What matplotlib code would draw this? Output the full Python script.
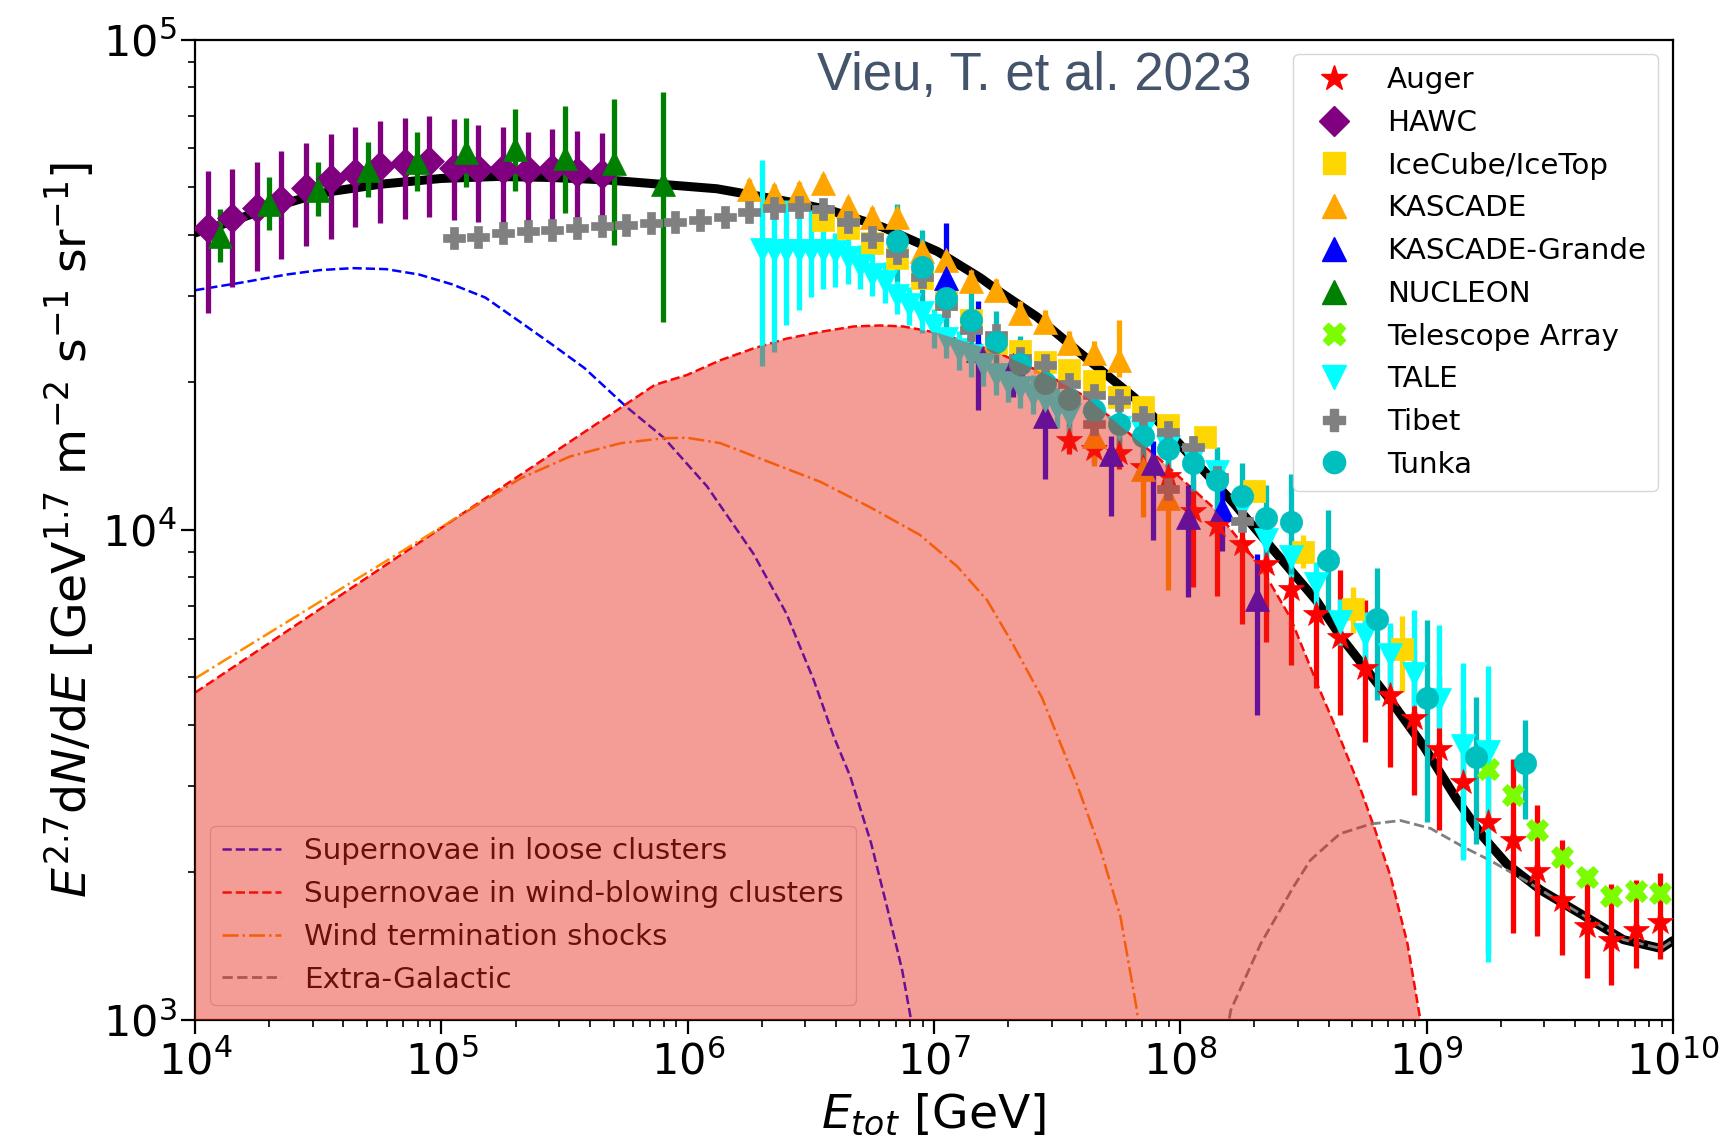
import matplotlib
matplotlib.use("Agg")
import matplotlib.pyplot as plt
from matplotlib.lines import Line2D
import numpy as np

# ---- data: log10(E / GeV) and log10(E^2.7 dN/dE) ----
# model curves
total_lgE = [4.0, 4.103, 4.246, 4.345, 4.448, 4.546, 4.748, 4.999, 5.223, 5.447, 5.670, 5.894,
             6.118, 6.342, 6.566, 6.790, 7.014, 7.189, 7.269, 7.417, 7.610, 7.811, 7.945, 8.080,
             8.219, 8.353, 8.554, 8.653, 8.854, 8.989, 9.123, 9.231, 9.325, 9.464, 9.665, 9.799,
             9.952, 10.0]
total_lgF = [4.606, 4.622, 4.647, 4.663, 4.678, 4.690, 4.705, 4.717, 4.721, 4.719, 4.714, 4.705,
             4.696, 4.676, 4.654, 4.618, 4.568, 4.514, 4.485, 4.435, 4.354, 4.271, 4.204, 4.129,
             4.053, 3.974, 3.855, 3.781, 3.652, 3.558, 3.450, 3.373, 3.319, 3.265, 3.205, 3.164,
             3.146, 3.162]

loose_lgE = [4.0, 4.193, 4.372, 4.506, 4.640, 4.775, 4.909, 5.043, 5.178, 5.326, 5.447, 5.581,
             5.751, 5.903, 6.078, 6.266, 6.400, 6.512, 6.593, 6.660, 6.745, 6.812, 6.871, 6.907,
             6.924]
loose_lgF = [4.489, 4.505, 4.521, 4.530, 4.534, 4.532, 4.521, 4.501, 4.474, 4.422, 4.379, 4.330,
             4.251, 4.188, 4.089, 3.952, 3.830, 3.693, 3.578, 3.497, 3.360, 3.225, 3.101, 3.000,
             2.948]

wind_lgE = [4.0, 5.867, 5.997, 6.132, 6.266, 6.400, 6.539, 6.674, 6.781, 6.875, 7.014, 7.238,
            7.462, 7.618, 7.910, 8.133, 8.326, 8.447, 8.559, 8.635, 8.729, 8.787, 8.854, 8.922,
            8.975, 8.993]
wind_lgF = [3.668, 4.296, 4.316, 4.346, 4.370, 4.390, 4.404, 4.415, 4.417, 4.415, 4.402, 4.366,
            4.316, 4.271, 4.147, 4.046, 3.925, 3.821, 3.682, 3.592, 3.475, 3.394, 3.293, 3.157,
            3.000, 2.944]

wts_lgE = [4.0, 5.321, 5.523, 5.729, 5.903, 5.997, 6.132, 6.333, 6.539, 6.741, 6.942, 7.095,
           7.215, 7.318, 7.439, 7.578, 7.677, 7.757, 7.824, 7.838]
wts_lgF = [3.697, 4.105, 4.150, 4.177, 4.187, 4.188, 4.177, 4.138, 4.098, 4.046, 3.990, 3.925,
           3.857, 3.769, 3.657, 3.484, 3.346, 3.211, 3.020, 2.944]

eg_lgE = [8.178, 8.205, 8.326, 8.460, 8.528, 8.648, 8.774, 8.895, 9.016, 9.150, 9.257, 9.396,
          9.531, 9.665, 9.799, 9.952, 10.0]
eg_lgF = [2.944, 3.020, 3.155, 3.272, 3.326, 3.380, 3.400, 3.407, 3.391, 3.353, 3.326, 3.286,
          3.245, 3.205, 3.164, 3.146, 3.162]

# measurements
auger_lgE = [7.55, 7.65, 7.75, 7.85, 7.95, 8.05, 8.15, 8.25, 8.35, 8.45, 8.55, 8.65, 8.75,
             8.85, 8.95, 9.05, 9.15, 9.25, 9.35, 9.45, 9.55, 9.65, 9.75, 9.85, 9.95]
auger_lgF = [4.183, 4.165, 4.156, 4.129, 4.109, 4.039, 4.010, 3.972, 3.931, 3.880, 3.828, 3.781,
             3.718, 3.664, 3.617, 3.552, 3.486, 3.405, 3.367, 3.304, 3.245, 3.191, 3.164, 3.184,
             3.200]
auger_hi = [4.215, 4.197, 4.186, 4.159, 4.141, 4.102, 4.062, 4.012, 3.967, 3.920, 3.920, 3.918,
            3.857, 3.803, 3.758, 3.704, 3.632, 3.531, 3.533, 3.439, 3.367, 3.299, 3.277, 3.286,
            3.299]
auger_lo = [4.154, 4.136, 4.125, 4.098, 4.075, 3.884, 3.866, 3.808, 3.772, 3.724, 3.677, 3.623,
            3.567, 3.517, 3.459, 3.387, 3.331, 3.135, 3.178, 3.171, 3.133, 3.086, 3.072, 3.106,
            3.124]

hawc_lgE = [4.05, 4.15, 4.25, 4.35, 4.45, 4.55, 4.65, 4.75, 4.85, 4.95, 5.05, 5.15, 5.25, 5.35,
            5.45, 5.55, 5.65]
hawc_lgF = [4.616, 4.636, 4.657, 4.674, 4.697, 4.715, 4.728, 4.742, 4.749, 4.753, 4.739, 4.737,
            4.737, 4.735, 4.737, 4.730, 4.726]
hawc_hi = [4.733, 4.737, 4.751, 4.772, 4.789, 4.808, 4.821, 4.835, 4.840, 4.844, 4.839, 4.826,
           4.821, 4.812, 4.818, 4.813, 4.810]
hawc_lo = [4.442, 4.496, 4.529, 4.553, 4.579, 4.594, 4.617, 4.626, 4.635, 4.638, 4.633, 4.629,
           4.627, 4.627, 4.627, 4.631, 4.635]

icetop_lgE = [6.55, 6.65, 6.75, 6.85, 6.95, 7.05, 7.15, 7.25, 7.35, 7.45, 7.55, 7.65, 7.75,
              7.85, 7.95, 8.1, 8.3, 8.5, 8.7, 8.9]
icetop_lgF = [4.632, 4.615, 4.585, 4.554, 4.513, 4.472, 4.428, 4.381, 4.364, 4.343, 4.326, 4.303,
              4.271, 4.251, 4.213, 4.190, 4.080, 3.954, 3.839, 3.756]
icetop_hi = [4.647, 4.630, 4.600, 4.569, 4.528, 4.487, 4.443, 4.396, 4.379, 4.358, 4.341, 4.318,
             4.287, 4.268, 4.231, 4.210, 4.102, 3.990, 3.884, 3.825]
icetop_lo = [4.617, 4.600, 4.570, 4.539, 4.498, 4.457, 4.413, 4.366, 4.349, 4.328, 4.311, 4.288,
             4.255, 4.234, 4.195, 4.170, 4.058, 3.922, 3.790, 3.670]

kascade_lgE = [6.25, 6.35, 6.45, 6.55, 6.65, 6.75, 6.85, 6.95, 7.05, 7.15, 7.25, 7.35, 7.45,
               7.55, 7.65, 7.75, 7.65, 7.85, 7.95]
kascade_lgF = [4.696, 4.685, 4.690, 4.707, 4.660, 4.638, 4.638, 4.568, 4.550, 4.507, 4.489, 4.442,
               4.424, 4.381, 4.361, 4.347, 4.192, 4.125, 4.066]
kascade_hi = [4.716, 4.705, 4.710, 4.727, 4.680, 4.658, 4.658, 4.590, 4.572, 4.530, 4.512, 4.466,
              4.448, 4.405, 4.385, 4.429, 4.215, 4.163, 4.091]
kascade_lo = [4.676, 4.665, 4.670, 4.687, 4.640, 4.618, 4.618, 4.546, 4.528, 4.484, 4.466, 4.418,
              4.400, 4.357, 4.337, 4.311, 4.131, 4.026, 3.877]

grande_lgE = [7.05, 7.18, 7.32, 7.45, 7.72, 7.89, 8.03, 8.17, 8.31]
grande_lgF = [4.514, 4.368, 4.336, 4.233, 4.154, 4.136, 4.026, 4.042, 3.859]
grande_hi = [4.626, 4.467, 4.384, 4.298, 4.192, 4.181, 4.091, 4.114, 3.951]
grande_lo = [4.422, 4.244, 4.271, 4.104, 4.028, 3.979, 3.864, 3.956, 3.623]

nucleon_lgE = [4.1, 4.3, 4.5, 4.7, 4.9, 5.1, 5.3, 5.5, 5.7, 5.9]
nucleon_lgF = [4.600, 4.665, 4.693, 4.735, 4.751, 4.770, 4.777, 4.759, 4.748, 4.706]
nucleon_hi = [4.654, 4.719, 4.751, 4.791, 4.812, 4.840, 4.859, 4.864, 4.879, 4.893]
nucleon_lo = [4.547, 4.611, 4.640, 4.679, 4.691, 4.699, 4.691, 4.646, 4.582, 4.425]

ta_lgE = [9.25, 9.35, 9.45, 9.55, 9.65, 9.75, 9.85, 9.95]
ta_lgF = [3.513, 3.459, 3.387, 3.333, 3.292, 3.254, 3.263, 3.259]

tale_lgE = [6.30, 6.35, 6.40, 6.45, 6.50, 6.55, 6.60, 6.65, 6.70, 6.75, 6.80, 6.85, 6.90, 6.95,
            7.00, 7.05, 7.10, 7.15, 7.20, 7.25, 7.30, 7.35, 7.40, 7.45, 7.50, 7.55, 7.65, 7.75,
            7.85, 7.95, 8.05, 8.15, 8.25, 8.35, 8.45, 8.55, 8.65, 8.75, 8.85, 8.95, 9.05, 9.15,
            9.25]
tale_lgF = [4.572, 4.568, 4.568, 4.568, 4.568, 4.570, 4.566, 4.555, 4.539, 4.521, 4.505, 4.478,
            4.458, 4.442, 4.415, 4.390, 4.368, 4.354, 4.336, 4.316, 4.300, 4.289, 4.276, 4.264,
            4.249, 4.235, 4.219, 4.208, 4.199, 4.170, 4.147, 4.118, 4.046, 3.979, 3.945, 3.889,
            3.812, 3.785, 3.745, 3.706, 3.652, 3.560, 3.546]
tale_hi = [4.755, 4.696, 4.674, 4.667, 4.653, 4.631, 4.606, 4.597, 4.582, 4.564, 4.546, 4.519,
           4.496, 4.478, 4.451, 4.424, 4.406, 4.390, 4.372, 4.357, 4.339, 4.327, 4.316, 4.305,
           4.289, 4.276, 4.260, 4.249, 4.237, 4.208, 4.186, 4.159, 4.091, 4.019, 3.985, 3.934,
           3.859, 3.832, 3.810, 3.837, 3.805, 3.729, 3.722]
tale_lo = [4.334, 4.363, 4.417, 4.449, 4.476, 4.492, 4.496, 4.501, 4.492, 4.478, 4.462, 4.440,
           4.417, 4.401, 4.372, 4.350, 4.327, 4.311, 4.294, 4.276, 4.260, 4.249, 4.237, 4.226,
           4.208, 4.195, 4.181, 4.170, 4.159, 4.131, 4.109, 4.078, 4.001, 3.938, 3.904, 3.844,
           3.765, 3.731, 3.675, 3.641, 3.596, 3.326, 3.119]

tibet_lgE = [5.05, 5.15, 5.25, 5.35, 5.45, 5.55, 5.65, 5.75, 5.85, 5.95, 6.05, 6.15, 6.25, 6.35,
             6.45, 6.55, 6.65, 6.75, 6.85, 6.95, 7.05, 7.15, 7.25, 7.35, 7.45, 7.55, 7.65, 7.75,
             7.85, 7.95, 8.05, 8.15, 8.25, 7.65, 7.95]
tibet_lgF = [4.595, 4.597, 4.606, 4.609, 4.611, 4.615, 4.619, 4.622, 4.627, 4.629, 4.633, 4.638,
             4.649, 4.656, 4.658, 4.654, 4.629, 4.597, 4.564, 4.516, 4.456, 4.408, 4.397, 4.350,
             4.336, 4.298, 4.276, 4.264, 4.231, 4.199, 4.170, 4.107, 4.019, 4.217, 4.084]

tunka_lgE = [6.85, 6.95, 7.05, 7.15, 7.25, 7.35, 7.45, 7.55, 7.65, 7.75, 7.85, 7.95, 8.05, 8.15,
             8.25, 8.35, 8.45, 8.6, 8.8, 9.0, 9.2, 9.4]
tunka_lgF = [4.590, 4.536, 4.474, 4.429, 4.384, 4.339, 4.300, 4.267, 4.244, 4.217, 4.192, 4.165,
             4.136, 4.102, 4.069, 4.024, 4.017, 3.938, 3.819, 3.657, 3.537, 3.524]
tunka_hi = [4.665, 4.611, 4.541, 4.491, 4.446, 4.395, 4.357, 4.321, 4.298, 4.271, 4.244, 4.219,
            4.192, 4.170, 4.136, 4.091, 4.114, 4.041, 3.922, 3.817, 3.659, 3.612]
tunka_lo = [4.507, 4.462, 4.406, 4.366, 4.321, 4.283, 4.244, 4.212, 4.190, 4.163, 4.141, 4.111,
            4.080, 4.039, 4.001, 3.945, 3.911, 3.832, 3.652, 3.405, 3.360, 3.411]

# (label, lgE, lgF, hi, lo) in legend order
datasets = [
    ("Auger", auger_lgE, auger_lgF, auger_hi, auger_lo),
    ("HAWC", hawc_lgE, hawc_lgF, hawc_hi, hawc_lo),
    ("IceCube/IceTop", icetop_lgE, icetop_lgF, icetop_hi, icetop_lo),
    ("KASCADE", kascade_lgE, kascade_lgF, kascade_hi, kascade_lo),
    ("KASCADE-Grande", grande_lgE, grande_lgF, grande_hi, grande_lo),
    ("NUCLEON", nucleon_lgE, nucleon_lgF, nucleon_hi, nucleon_lo),
    ("Telescope Array", ta_lgE, ta_lgF, None, None),
    ("TALE", tale_lgE, tale_lgF, tale_hi, tale_lo),
    ("Tibet", tibet_lgE, tibet_lgF, None, None),
    ("Tunka", tunka_lgE, tunka_lgF, tunka_hi, tunka_lo),
]

# marker, colour, markersize
styles = {
    "Auger":           ("*", "red", 19),
    "HAWC":            ("D", "purple", 15.5),
    "IceCube/IceTop":  ("s", "gold", 15.5),
    "KASCADE":         ("^", "orange", 17),
    "KASCADE-Grande":  ("^", "blue", 17),
    "NUCLEON":         ("^", "green", 17),
    "Telescope Array": ("X", "lawngreen", 16),
    "TALE":            ("v", "cyan", 17),
    "Tibet":           ("P", "grey", 15.5),
    "Tunka":           ("o", "c", 16),
}

def p10(a):
    return np.power(10.0, np.asarray(a, dtype=float))

fig = plt.figure(figsize=(17.29, 11.42), dpi=100)
ax = fig.add_axes([0.1129, 0.1068, 0.8546, 0.8584])
ax.set_xscale("log")
ax.set_yscale("log")

# total model
ax.plot(p10(total_lgE), p10(total_lgF), color="black", lw=6.5, zorder=2,
        solid_capstyle="round")

# components
l1, = ax.plot(p10(loose_lgE), p10(loose_lgF), ls="--", color="blue", lw=1.8, zorder=2.5,
              label="Supernovae in loose clusters")
l2, = ax.plot(p10(wind_lgE), p10(wind_lgF), ls="--", color="red", lw=1.8, zorder=2.5,
              label="Supernovae in wind-blowing clusters")
l3, = ax.plot(p10(wts_lgE), p10(wts_lgF), ls="-.", color="darkorange", lw=1.8, zorder=2.5,
              label="Wind termination shocks")
l4, = ax.plot(p10(eg_lgE), p10(eg_lgF), ls="--", color="grey", lw=2.0, zorder=2.6,
              label="Extra-Galactic")

# data
for name, lgE, lgF, hi, lo in datasets:
    m, c, ms = styles[name]
    E = p10(lgE)
    F = p10(lgF)
    yerr = None
    if hi is not None:
        yerr = [F - p10(lo), p10(hi) - F]
    ax.errorbar(E, F, yerr=yerr, fmt=m, color=c, ms=ms, mec=c, mew=0.5,
                elinewidth=3.8, capsize=0, zorder=3)

# shaded band (drawn on top, semi-transparent)
ax.fill_between(p10(wind_lgE), p10(wind_lgF), 1e2, color="#e82416", alpha=0.45,
                lw=0, zorder=10)

ax.set_xlim(1e4, 1e10)
ax.set_ylim(1e3, 1e5)

for s in ax.spines.values():
    s.set_linewidth(1.6)
ax.tick_params(which="major", length=10, width=1.6, labelsize=31)
ax.tick_params(which="minor", length=5, width=1.2)
ax.tick_params(axis="x", which="major", pad=5)

ax.set_xlabel(r"$E_{tot}$ [GeV]", fontsize=34, labelpad=6)
ax.set_ylabel(r"$E^{2.7}$d$N$/d$E$ [GeV$^{1.7}$ m$^{-2}$ s$^{-1}$ sr$^{-1}$]", fontsize=34)

# legends
handles = [Line2D([], [], ls="none", marker=styles[n][0], color=styles[n][1],
                  ms=styles[n][2], mec=styles[n][1], label=n) for n, *_ in datasets]
leg1 = ax.legend(handles=handles, loc="upper right", fontsize=21.2, labelspacing=0.5)
leg1.set_zorder(12)
ax.add_artist(leg1)
leg2 = ax.legend(handles=[l1, l2, l3, l4], loc="lower left", fontsize=21.2,
                 labelspacing=0.5)
leg2.set_zorder(5)

ax.text(0.7149, 0.9483, "Vieu, T. et al. 2023", transform=ax.transAxes,
        ha="right", va="baseline", fontsize=38, color="#44546A",
        family="Liberation Sans", zorder=12)

fig.savefig("out.png", dpi=100)
